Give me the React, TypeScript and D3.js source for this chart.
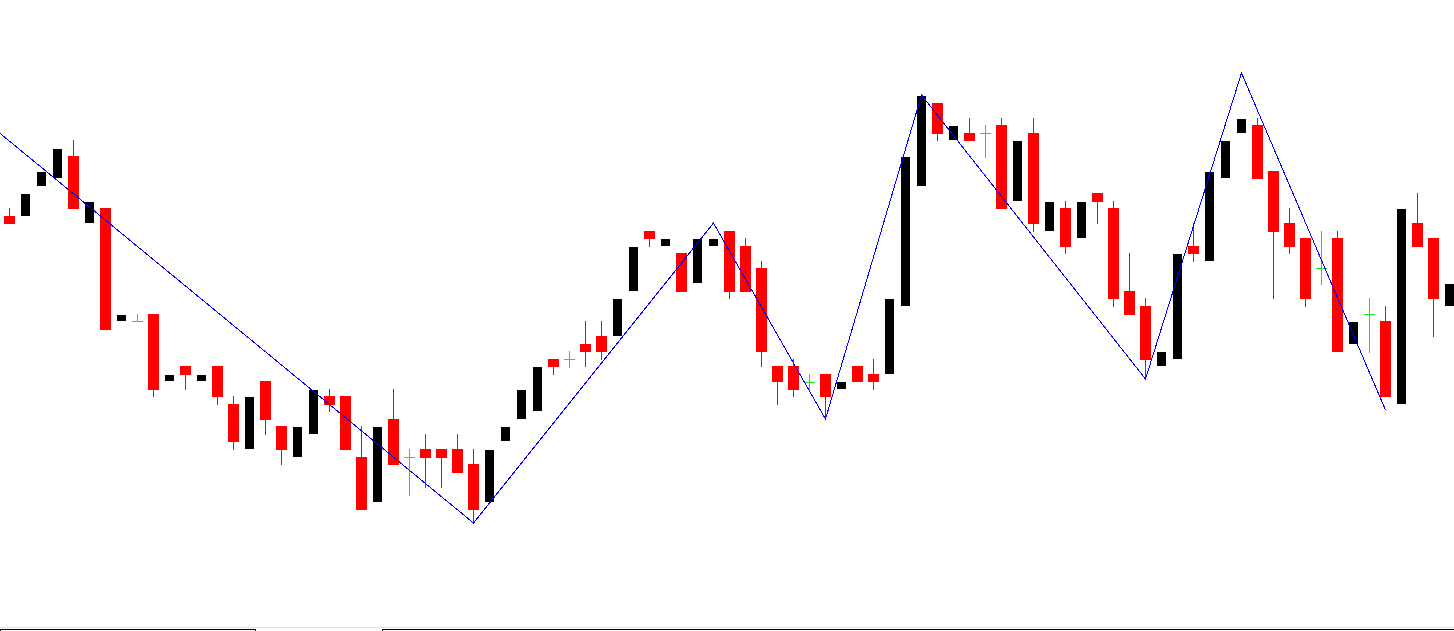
import React from "react";
import * as d3 from "d3";

// Candle data: [open, high, low, close] per bar, in price units
const opens = [415,415,445,453,475,408,423,310,310,317,250,265,250,265,227,182,250,205,174,197,235,235,174,129,212,174,182,182,182,167,129,190,212,220,272,272,287,295,295,340,400,385,378,348,385,400,385,363,265,265,249,257,242,265,257,257,325,445,528,491,498,498,506,430,498,400,423,393,438,423,340,325,265,272,385,370,453,498,506,460,408,393,363,393,287,317,310,227,408,393,325];
const highs = [423,437,459,482,491,429,423,316,317,317,256,265,256,265,235,234,250,205,204,241,242,235,205,204,242,182,197,182,197,182,181,204,241,264,272,280,310,310,332,384,400,392,378,392,392,400,393,370,265,272,257,257,249,265,272,332,474,535,528,505,513,506,513,490,513,429,430,429,438,430,378,333,279,377,408,459,490,512,513,460,423,393,400,400,309,333,325,422,438,393,347];
const lows = [407,415,445,453,422,408,301,310,310,234,250,241,250,226,181,182,196,166,174,197,219,181,121,129,166,136,143,143,158,108,129,190,212,220,256,264,264,271,295,340,384,385,339,348,385,332,339,264,226,234,241,212,242,249,241,257,325,445,490,491,490,474,422,430,399,400,377,393,407,324,316,252,265,272,369,370,453,498,452,332,377,324,347,279,287,279,234,227,384,294,325];
const closes = [407,437,459,482,422,429,301,316,310,241,256,256,256,234,189,234,211,181,204,241,226,181,121,204,166,174,173,173,158,121,181,204,241,264,264,272,279,279,332,384,392,392,339,392,392,339,339,279,249,241,249,234,249,249,249,332,474,535,497,505,490,498,422,490,407,429,384,429,429,332,316,271,279,377,377,459,490,512,452,399,384,332,363,279,309,317,234,422,384,332,347];

// ZigZag vertices: bar index and price
const zigIndex = [-1, 29, 44, 51, 57, 71, 77, 86];
const zigPrice = [503, 108, 408, 212, 536, 252, 558, 221];

const W = 1454;
const H = 631;

export default function App() {
  const x = d3.scaleLinear().domain([0, 90]).range([9.5, 1449.5]);
  const y = d3.scaleLinear().domain([0, 631]).range([631, 0]);

  const zigPts: [number, number][] = zigIndex.map((k, i) => [x(k), y(zigPrice[i])]);
  const line = d3.line<[number, number]>().x((d) => d[0]).y((d) => d[1]);

  const candles = opens.map((o, i) => {
    const c = closes[i];
    const h = highs[i];
    const l = lows[i];
    const cx = x(i);
    if (o === c) {
      // doji
      return (
        <g key={i}>
          <rect x={cx - 0.5} y={y(h)} width={1} height={y(l) - y(h) + 1} fill="#20e020" />
          <rect x={cx - 5.5} y={y(o)} width={11} height={1} fill="#20e020" />
        </g>
      );
    }
    const top = y(Math.max(o, c));
    const bot = y(Math.min(o, c));
    if (c > o) {
      return <rect key={i} x={cx - 4.5} y={top} width={9} height={bot - top} fill="#000000" />;
    }
    return (
      <g key={i}>
        <rect x={cx - 0.5} y={y(h)} width={1} height={y(l) - y(h)} fill="#ff0000" />
        <rect x={cx - 5.5} y={top} width={11} height={bot - top} fill="#ff0000" />
      </g>
    );
  });

  return (
    <svg
      width={W}
      height={H}
      style={{ position: "absolute", left: 0, top: 0, background: "#ffffff" }}
    >
      <rect x={0} y={0} width={W} height={H} fill="#ffffff" />
      <g>{candles}</g>
      <path
        d={line(zigPts) || ""}
        fill="none"
        stroke="#0000ff"
        strokeWidth={1}
        shapeRendering="crispEdges"
      />
      {/* bottom tab strip */}
      <rect x={0} y={627} width={W} height={1} fill="#e0e0e0" />
      <rect x={0} y={629} width={256} height={1} fill="#000000" />
      <rect x={0} y={629} width={1} height={2} fill="#000000" />
      <rect x={255} y={629} width={1} height={2} fill="#000000" />
      <rect x={382} y={629} width={W - 382} height={1} fill="#000000" />
      <rect x={382} y={629} width={1} height={2} fill="#000000" />
    </svg>
  );
}
